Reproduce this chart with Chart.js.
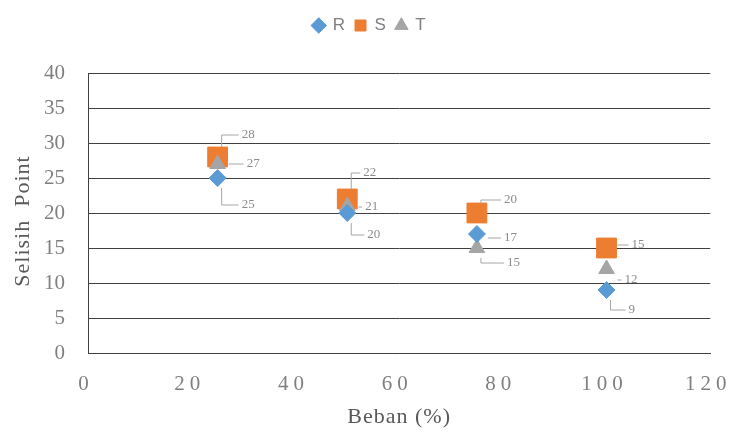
<!DOCTYPE html>
<html>
<head>
<meta charset="utf-8">
<script src="https://cdn.jsdelivr.net/npm/chart.js@4/dist/chart.umd.min.js"></script>
<style>
  html, body { margin: 0; padding: 0; background: #fff; }
  #wrap { width: 745px; height: 434px; }
</style>
</head>
<body>
<div id="wrap"><canvas id="myChart"></canvas></div>
<script>
const beban = [25, 50, 75, 100];
const seriesR = [25, 20, 17, 9];
const seriesS = [28, 22, 20, 15];
const seriesT = [27, 21, 15, 12];
const xTicks = [0, 20, 40, 60, 80, 100, 120];
const yTicks = [0, 5, 10, 15, 20, 25, 30, 35, 40];

// label offsets (px) from each point, like the excel leader labels
const offsR = [[24, 27], [20, 22], [27, 4], [22, 20]];
const offsS = [[24, -22], [16, -26], [27, -13], [25, -3]];
const offsT = [[29, 0], [18, 1], [30, 15], [18, 11]];

const toPts = vals => vals.map((v, i) => ({ x: beban[i], y: v }));

const serif = '"Liberation Serif", "DejaVu Serif", serif';

// draws value labels with little gray leader lines
const leaderLabels = {
    id: 'leaderLabels',
    afterDatasetsDraw(chart) {
        const ctx = chart.ctx;
        ctx.save();
        ctx.font = '13px ' + serif;
        ctx.fillStyle = '#8c8c8c';
        ctx.strokeStyle = '#a6a6a6';
        ctx.lineWidth = 1;
        ctx.textBaseline = 'middle';
        ctx.textAlign = 'left';
        chart.data.datasets.forEach((ds, i) => {
            const meta = chart.getDatasetMeta(i);
            meta.data.forEach((pt, j) => {
                const [dx, dy] = ds.labelOffsets[j];
                const lx = pt.x + dx, ly = pt.y + dy;
                ctx.beginPath();
                if (Math.abs(dy) > 12) {
                    ctx.moveTo(pt.x + 4, pt.y + Math.sign(dy) * 10);
                    ctx.lineTo(pt.x + 4, ly);
                    ctx.lineTo(lx - 3, ly);
                } else {
                    ctx.moveTo(pt.x + 11, ly);
                    ctx.lineTo(lx - 3, ly);
                }
                ctx.stroke();
                ctx.fillText(String(ds.data[j].y), lx, ly);
            });
        });
        ctx.restore();
    }
};

// fixed legend height + letter spacing / nudges on the axis text
const tweaks = {
    id: 'tweaks',
    beforeInit(chart) {
        const lg = chart.legend;
        const fit = lg.fit, draw = lg.draw;
        lg.fit = function () {
            fit.call(this);
            this.height = 66;
        };
        lg.draw = function () {
            this.ctx.save();
            this.ctx.translate(13, 0);
            draw.call(this);
            this.ctx.restore();
        };
    },
    beforeDraw(chart) {
        // [label spacing, label shift x, title spacing, title shift x, title shift y]
        const spacing = { x: ['5px', -2, '1px', 0, 0], y: ['0px', 0, '1px', 0, 8] };
        Object.keys(spacing).forEach(id => {
            const sc = chart.scales[id];
            if (sc._spaced) return;
            const [lbl, lshift, ttl, tx, ty] = spacing[id];
            const dl = sc.drawLabels, dt = sc.drawTitle;
            sc.drawLabels = function (area) {
                this.ctx.save();
                this.ctx.letterSpacing = lbl;
                this.ctx.translate(lshift, 0);
                dl.call(this, area);
                this.ctx.restore();
            };
            sc.drawTitle = function () {
                this.ctx.save();
                this.ctx.letterSpacing = ttl;
                this.ctx.translate(tx, ty);
                dt.call(this);
                this.ctx.restore();
            };
            sc._spaced = true;
        });
    }
};

new Chart('myChart', {
    type: 'scatter',
    data: {
        datasets: [
            {
                label: 'R',
                data: toPts(seriesR),
                pointStyle: 'rectRot',
                pointRadius: 8.5,
                pointHoverRadius: 8.5,
                backgroundColor: '#5B9BD5',
                borderColor: '#5B9BD5',
                labelOffsets: offsR,
                order: 1
            },
            {
                label: 'S',
                data: toPts(seriesS),
                pointStyle: 'rect',
                pointRadius: 14,
                pointHoverRadius: 14,
                backgroundColor: '#ED7D31',
                borderColor: '#ED7D31',
                labelOffsets: offsS,
                order: 3
            },
            {
                label: 'T',
                data: toPts(seriesT),
                pointStyle: 'triangle',
                pointRadius: 9,
                pointHoverRadius: 9,
                backgroundColor: '#A5A5A5',
                borderColor: '#A5A5A5',
                labelOffsets: offsT,
                order: 2
            }
        ]
    },
    options: {
        responsive: true,
        maintainAspectRatio: false,
        animation: false,
        layout: { padding: { left: 0, right: 32, top: 7, bottom: 0 } },
        plugins: {
            legend: {
                position: 'top',
                labels: {
                    usePointStyle: true,
                    boxWidth: 11,
                    boxHeight: 11,
                    padding: 10,
                    color: '#7f7f7f',
                    font: { family: '"Liberation Sans", sans-serif', size: 17 },
                    sort: (a, b) => a.datasetIndex - b.datasetIndex
                }
            },
            tooltip: { enabled: false }
        },
        scales: {
            x: {
                type: 'linear',
                min: 0,
                max: 120,
                afterBuildTicks: s => { s.ticks = xTicks.map(v => ({ value: v })); },
                afterFit: s => { s.height = 81; },
                grid: { display: false, drawTicks: false },
                border: { display: true, color: '#404040' },
                ticks: { padding: 19, color: '#7f7f7f', font: { family: serif, size: 21 } },
                title: {
                    display: true,
                    text: 'Beban (%)',
                    color: '#595959',
                    padding: { top: 2, bottom: 4 },
                    font: { family: serif, size: 22 }
                }
            },
            y: {
                min: 0,
                max: 40,
                afterBuildTicks: s => { s.ticks = yTicks.map(v => ({ value: v })); },
                afterFit: s => { s.width = 88; },
                grid: { color: '#404040', drawTicks: false },
                border: { display: true, color: '#404040' },
                ticks: { padding: 23, color: '#7f7f7f', font: { family: serif, size: 21 } },
                title: {
                    display: true,
                    text: 'Selisih  Point',
                    color: '#595959',
                    padding: { top: 10, bottom: 0 },
                    font: { family: serif, size: 22 }
                }
            }
        }
    },
    plugins: [leaderLabels, tweaks]
});
</script>
</body>
</html>
